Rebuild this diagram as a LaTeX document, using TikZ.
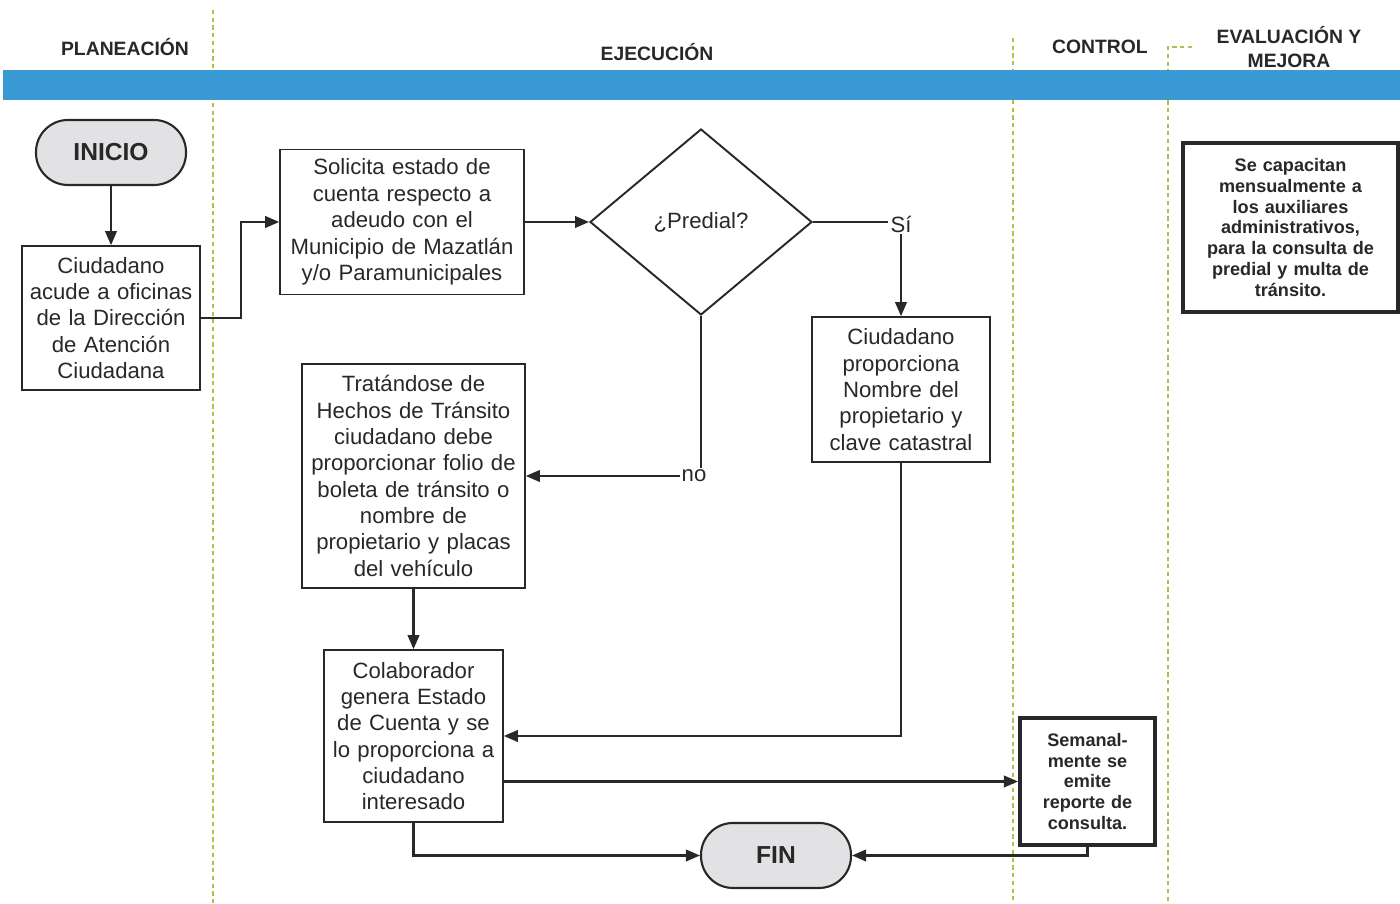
\documentclass[tikz,border=0pt]{standalone}
\usepackage{fontspec}
\setmainfont{Liberation Sans}
\usetikzlibrary{positioning, arrows.meta, shapes.geometric}
\definecolor{bandblue}{RGB}{58,154,214}
\definecolor{lanegreen}{RGB}{182,192,72}
\definecolor{inkgray}{RGB}{40,40,40}
\definecolor{pillgray}{RGB}{226,226,228}

\begin{document}
\begin{tikzpicture}[
    box/.style={
      draw=inkgray, line width=0.9pt, fill=white, text=inkgray,
      align=center, inner sep=0pt, font=\fontsize{12.6}{15}\selectfont
    },
    note/.style={
      draw=inkgray, line width=2.3pt, fill=white, text=inkgray,
      align=center, inner sep=0pt, font=\bfseries\fontsize{10.3}{11.8}\selectfont
    },
    pill/.style={
      draw=inkgray, line width=1.2pt, fill=pillgray, rounded corners=0.64cm,
      minimum width=3cm, minimum height=1.3cm, text=inkgray,
      font=\bfseries\fontsize{14}{16}\selectfont
    },
    decision/.style={
      diamond, draw=inkgray, line width=1.1pt, fill=white, inner sep=0pt,
      minimum width=4.44cm, minimum height=3.72cm, text=inkgray,
      font=\fontsize{12.6}{15}\selectfont
    },
    head/.style={align=center, text=inkgray, font=\bfseries\fontsize{11}{13.6}\selectfont},
    lbl/.style={inner sep=1pt, text=inkgray, font=\fontsize{12.6}{15}\selectfont},
    lane/.style={lanegreen, line width=1.2pt, dash pattern=on 2.4pt off 2pt},
    link/.style={line width=1.2pt, inkgray},
    arr/.style={-{Triangle[length=2.8mm, width=2.3mm]}, line width=1.2pt, inkgray},
  ]
    \useasboundingbox (0,0) rectangle (28,18.08);

    \draw[lane] (4.26,17.88) -- (4.26,0);
    \draw[lane] (20.26,17.32) -- (20.26,0);
    \draw[lane] (23.84,17.14) -- (23.36,17.14) -- (23.36,0);
    \fill[bandblue] (0.06,16.68) rectangle (28,16.08);

    \node[head] (hplan) at (2.5,17.14) {PLANEACIÓN};
    \node[head] (hejec) at (13.14,17.04) {EJECUCIÓN};
    \node[head] (hctrl) at (22.0,17.14) {CONTROL};
    \node[head] (heval) at (25.78,17.14) {EVALUACIÓN Y\\MEJORA};

    \node[pill] (ini) at (2.22,15.03) {INICIO};
    \node[box, text width=3.56cm, minimum height=2.88cm] (ciud) at (2.22,11.72) {%
      Ciudadano\\acude a oficinas\\de la Dirección\\de Atención\\Ciudadana};
    \node[box, text width=4.88cm, minimum height=2.9cm] (sol) at (8.04,13.64) {%
      Solicita estado de\\cuenta respecto a\\adeudo con el\\Municipio de Mazatlán\\y/o Paramunicipales};
    \node[decision] (dec) at (14.02,13.64) {¿Predial?};
    \node[lbl] (si) at (18.02,13.6) {Sí};
    \node[box, text width=3.56cm, minimum height=2.9cm] (prop) at (18.02,10.29) {%
      Ciudadano\\proporciona\\Nombre del\\propietario y\\clave catastral};
    \node[lbl] (no) at (13.88,8.56) {no};
    \node[box, text width=4.46cm, minimum height=4.48cm] (trat) at (8.27,8.56) {%
      Tratándose de\\Hechos de Tránsito\\ciudadano debe\\proporcionar folio de\\boleta de tránsito o\\nombre de\\propietario y placas\\del vehículo};
    \node[box, text width=3.58cm, minimum height=3.44cm] (colab) at (8.27,3.36) {%
      Colaborador\\genera Estado\\de Cuenta y se\\lo proporciona a\\ciudadano\\interesado};
    \node[note, text width=2.7cm, minimum height=2.54cm] (sem) at (21.75,2.45) {%
      Semanal-\\mente se\\emite\\reporte de\\consulta.};
    \node[pill] (fin) at (15.52,0.97) {FIN};
    \node[note, text width=4.3cm, minimum height=3.38cm] (eval) at (25.81,13.53) {%
      Se capacitan\\mensualmente a\\los auxiliares\\administrativos,\\para la consulta de\\predial y multa de\\tránsito.};

    \draw[arr] (ini) -- (ciud);
    \draw[arr] (ciud.east) -- ++(0.8,0) |- (sol.west);
    \draw[arr] (sol) -- (dec);
    \draw[link] (dec.east) -- (dec.east -| si.west);
    \draw[arr] (si.south) -- (prop.north);
    \draw[link] (dec.south) -- (dec.south |- no.north);
    \draw[arr] (no.west) -- (trat.east);
    \draw[arr] (trat) -- (colab);
    \draw[arr] (prop.south) |- (colab.east);
    \draw[arr] (colab.east |- sem.west) -- (sem.west);
    \draw[arr] (colab.south) |- (fin.west);
    \draw[arr] (sem.south) |- (fin.east);
  \end{tikzpicture}
\end{document}
